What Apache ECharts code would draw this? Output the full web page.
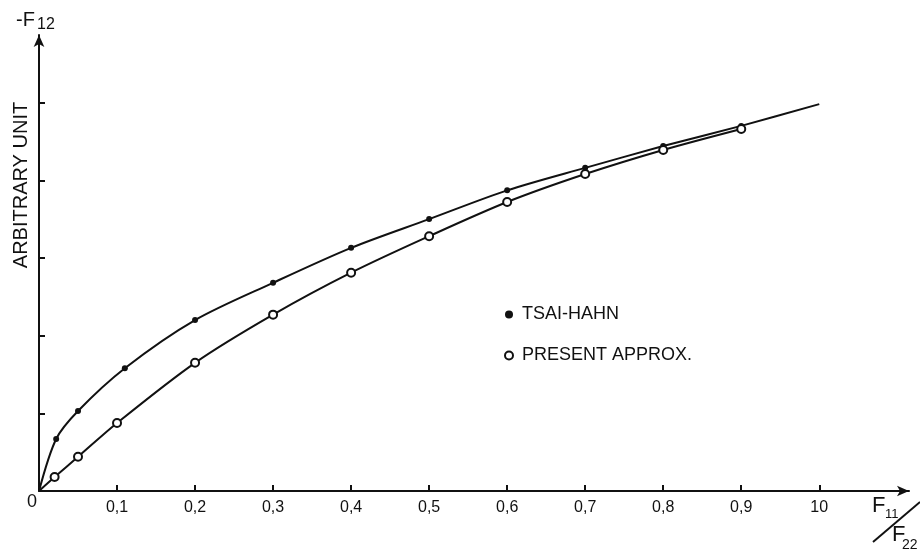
<!DOCTYPE html>
<html>
<head>
<meta charset="utf-8">
<script src="https://cdn.jsdelivr.net/npm/echarts@6/dist/echarts.min.js"></script>
<style>html,body{margin:0;padding:0;background:#fff}#c{width:920px;height:554px}</style>
</head>
<body>
<div id="c"></div>
<script>
// ---- data ----
var xTickValues = [0, 0.1, 0.2, 0.3, 0.4, 0.5, 0.6, 0.7, 0.8, 0.9, 1.0];
var xTickLabels = ['0', '0,1', '0,2', '0,3', '0,4', '0,5', '0,6', '0,7', '0,8', '0,9', '10'];
var yTickValues = [1, 2, 3, 4, 5];

var tsaiX = [0, 0.022, 0.05, 0.11, 0.2, 0.3, 0.4, 0.5, 0.6, 0.7, 0.8, 0.9, 1.0];
var tsaiY = [0, 0.67, 1.03, 1.58, 2.20, 2.68, 3.13, 3.50, 3.87, 4.16, 4.44, 4.70, 4.98];
var tsaiMarked = [false, true, true, true, true, true, true, true, true, true, true, true, false];

var presX = [0, 0.02, 0.05, 0.1, 0.2, 0.3, 0.4, 0.5, 0.6, 0.7, 0.8, 0.9];
var presY = [0, 0.18, 0.44, 0.875, 1.65, 2.27, 2.81, 3.28, 3.72, 4.08, 4.39, 4.66];
var presMarked = [false, true, true, true, true, true, true, true, true, true, true, true];

var seriesNames = ['TSAI-HAHN', 'PRESENT APPROX.'];

var INK = '#111111';
var FONT = '"Liberation Sans", Arial, sans-serif';

function build(xs, ys, marked) {
  return xs.map(function (x, i) {
    return marked[i] ? { value: [x, ys[i]] } : { value: [x, ys[i]], symbolSize: 0 };
  });
}

var chart = echarts.init(document.getElementById('c'), null, { renderer: 'canvas' });
chart.setOption({
  animation: false,
  backgroundColor: '#ffffff',
  grid: { left: 39, top: 35, right: 11, bottom: 63, containLabel: false },
  legend: {
    orient: 'vertical',
    left: 499,
    top: 299,
    itemWidth: 16,
    itemHeight: 8,
    itemGap: 20,
    textStyle: { color: INK, fontSize: 18, fontFamily: FONT, lineHeight: 21 },
    data: [
      { name: seriesNames[0], icon: 'circle', itemStyle: { color: INK } },
      { name: seriesNames[1], icon: 'emptyCircle', itemStyle: { color: INK, borderColor: INK, borderWidth: 2 } }
    ]
  },
  xAxis: {
    type: 'value',
    min: 0,
    max: 1.115,
    interval: 0.1,
    splitLine: { show: false },
    axisLine: {
      lineStyle: { color: INK, width: 2 },
      symbol: ['none', 'arrow'],
      symbolSize: [8, 12]
    },
    axisTick: {
      inside: true, length: 6,
      lineStyle: { color: INK, width: 2 },
      customValues: xTickValues.slice(1)
    },
    axisLabel: {
      customValues: xTickValues,
      margin: 17,
      verticalAlign: 'middle',
      color: INK,
      fontSize: 16,
      fontFamily: FONT,
      formatter: function (v) {
        var k = Math.round(v * 10);
        if (Math.abs(v * 10 - k) < 1e-6 && k >= 0 && k < xTickLabels.length) {
          return k === 0 ? '{z|' + xTickLabels[k] + '}' : xTickLabels[k];
        }
        return '';
      },
      rich: { z: { fontSize: 18, fontFamily: FONT, color: INK, padding: [0, 14, 12, 0] } }
    }
  },
  yAxis: {
    type: 'value',
    min: 0,
    max: 5.87,
    interval: 1,
    splitLine: { show: false },
    axisLine: {
      lineStyle: { color: INK, width: 2 },
      symbol: ['none', 'arrow'],
      symbolSize: [8, 12]
    },
    axisTick: {
      inside: true, length: 6,
      lineStyle: { color: INK, width: 2 },
      customValues: yTickValues
    },
    axisLabel: { show: false }
  },
  series: [
    {
      name: seriesNames[0],
      type: 'line',
      smooth: 0.3,
      data: build(tsaiX, tsaiY, tsaiMarked),
      symbol: 'circle',
      symbolSize: 6,
      showSymbol: true,
      lineStyle: { color: INK, width: 2 },
      itemStyle: { color: INK },
      z: 3
    },
    {
      name: seriesNames[1],
      type: 'line',
      smooth: 0.3,
      data: build(presX, presY, presMarked),
      symbol: 'emptyCircle',
      symbolSize: 8,
      showSymbol: true,
      lineStyle: { color: INK, width: 2 },
      itemStyle: { color: INK, borderColor: INK, borderWidth: 2 },
      z: 4
    }
  ],
  graphic: [
    { type: 'text', left: 16, top: 10, style: { text: '-F', fill: INK, font: '20px ' + FONT } },
    { type: 'text', left: 37, top: 17, style: { text: '12', fill: INK, font: '16px ' + FONT } },
    { type: 'text', x: 21, y: 185, rotation: Math.PI / 2,
      style: { text: 'ARBITRARY UNIT', fill: INK, font: '20px ' + FONT, align: 'center', verticalAlign: 'middle' } },
    { type: 'text', left: 872, top: 495, style: { text: 'F', fill: INK, font: '22px ' + FONT } },
    { type: 'text', left: 885, top: 508, style: { text: '11', fill: INK, font: '13px ' + FONT } },
    { type: 'line', shape: { x1: 873, y1: 542, x2: 920, y2: 502 }, style: { stroke: INK, lineWidth: 2 } },
    { type: 'text', left: 892, top: 524, style: { text: 'F', fill: INK, font: '22px ' + FONT } },
    { type: 'text', left: 902, top: 538, style: { text: '22', fill: INK, font: '14px ' + FONT } }
  ]
});
</script>
</body>
</html>
